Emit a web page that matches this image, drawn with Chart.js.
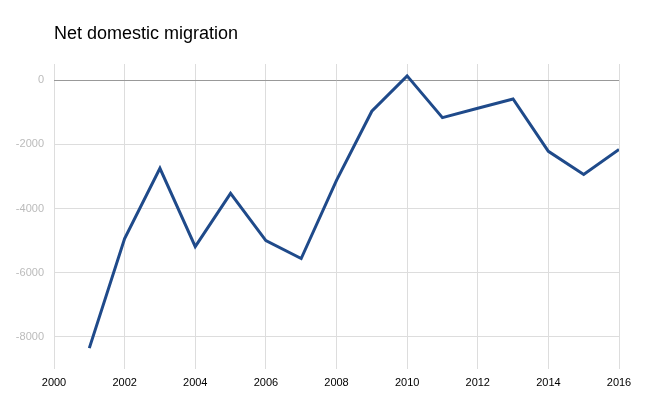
<!DOCTYPE html>
<html>
<head>
<meta charset="utf-8">
<style>
    html, body { margin: 0; padding: 0; background: #ffffff; }
    #wrap { width: 664px; height: 411px; }
</style>
<script src="https://cdn.jsdelivr.net/npm/chart.js@4"></script>
</head>
<body>
<div id="wrap"><canvas id="migrationChart"></canvas></div>
<script>
const years = [2001, 2002, 2003, 2004, 2005, 2006, 2007, 2008, 2009, 2010, 2011, 2012, 2013, 2014, 2015, 2016];
const migration = [-8350, -4940, -2750, -5190, -3530, -5000, -5560, -3125, -970, 130, -1170, -880, -590, -2220, -2940, -2160];
const yTicks = [-8000, -6000, -4000, -2000, 0];
const titleText = 'Net domestic migration';

// draws the title at the left edge of the plot, like the original
const titlePlugin = {
    id: 'leftTitle',
    afterDraw(chart) {
        const ctx = chart.ctx;
        ctx.save();
        ctx.font = "18px 'Liberation Sans', Arial, sans-serif";
        ctx.fillStyle = '#000000';
        ctx.textBaseline = 'middle';
        ctx.textAlign = 'left';
        ctx.fillText(titleText, chart.chartArea.left, 34);
        ctx.restore();
    }
};

new Chart(document.getElementById('migrationChart'), {
    type: 'line',
    data: {
        datasets: [{
            label: titleText,
            data: years.map((y, i) => ({ x: y, y: migration[i] })),
            borderColor: '#1f4a8a',
            borderWidth: 3,
            pointRadius: 0,
            tension: 0,
            fill: false
        }]
    },
    options: {
        responsive: true,
        maintainAspectRatio: false,
        animation: false,
        layout: { padding: { top: 64, right: 45, left: 0, bottom: 0 } },
        plugins: {
            legend: { display: false },
            tooltip: { enabled: false }
        },
        scales: {
            x: {
                type: 'linear',
                min: 2000,
                max: 2016,
                ticks: {
                    stepSize: 2,
                    color: '#000000',
                    padding: 7,
                    maxRotation: 0,
                    font: { family: "'Liberation Sans', Arial, sans-serif", size: 11 },
                    callback: v => String(v)
                },
                grid: { color: '#dddddd', drawTicks: false },
                border: { display: false },
                afterFit(scale) { scale.height = 42; }
            },
            y: {
                min: -9000,
                max: 500,
                afterBuildTicks(scale) {
                    scale.ticks = yTicks.map(v => ({ value: v }));
                },
                ticks: {
                    color: '#bbbbbb',
                    padding: 10,
                    font: { family: "'Liberation Sans', Arial, sans-serif", size: 11 },
                    callback: v => String(v)
                },
                grid: {
                    color: ctx => (ctx.tick && ctx.tick.value === 0) ? '#999999' : '#dddddd',
                    drawTicks: false
                },
                border: { display: false },
                afterFit(scale) { scale.width = 54; }
            }
        }
    },
    plugins: [titlePlugin]
});
</script>
</body>
</html>
